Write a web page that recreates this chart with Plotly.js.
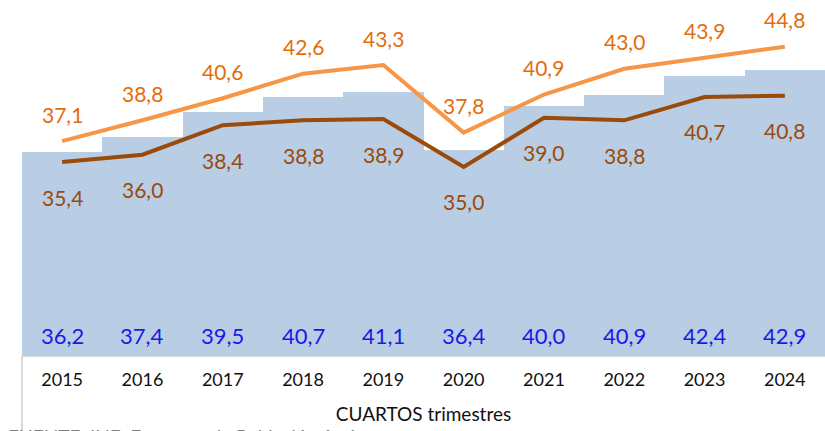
<!DOCTYPE html>
<html>
<head>
<meta charset="utf-8">
<script src="https://cdn.plot.ly/plotly-3.0.1.min.js"></script>
<style>html,body{margin:0;padding:0;background:#fff;}#chart{width:825px;height:431px;}</style>
</head>
<body>
<div id="chart"></div>
<script>
const years = ["2015","2016","2017","2018","2019","2020","2021","2022","2023","2024"];
const barValues = [36.2,37.4,39.5,40.7,41.1,36.4,40.0,40.9,42.4,42.9];
const orangeValues = [37.1,38.8,40.6,42.6,43.3,37.8,40.9,43.0,43.9,44.8];
const brownValues = [35.4,36.0,38.4,38.8,38.9,35.0,39.0,38.8,40.7,40.8];
const xTitle = "CUARTOS trimestres";
const sourceNote = "FUENTE: INE. Encuesta de Población Activa";

const FONT = "Lato, 'Open Sans', sans-serif";
const fmt = v => v.toFixed(1).replace(".", ",");

const traces = [
  {type:"bar", x:years, y:barValues, marker:{color:"#B9CDE5", line:{width:0}}, hoverinfo:"skip", showlegend:false},
  {type:"scatter", mode:"lines", x:years, y:orangeValues, line:{color:"#F79646", width:4}, showlegend:false, hoverinfo:"skip"},
  {type:"scatter", mode:"lines", x:years, y:brownValues, line:{color:"#9A4A0A", width:4}, showlegend:false, hoverinfo:"skip"}
];

const annotations = [];
years.forEach((yr,i) => {
  annotations.push({x:i, y:0, xref:"x", yref:"paper", text:fmt(barValues[i]), showarrow:false,
    yanchor:"middle", yshift:21, font:{family:FONT, size:22, color:"#1A1AE6"}});
  annotations.push({x:i, y:orangeValues[i], xref:"x", yref:"y", text:fmt(orangeValues[i]), showarrow:false,
    yanchor:"middle", yshift:27, font:{family:FONT, size:21, color:"#E46C0A"}});
  annotations.push({x:i, y:brownValues[i], xref:"x", yref:"y", text:fmt(brownValues[i]), showarrow:false,
    yanchor:"middle", yshift:-35, font:{family:FONT, size:21, color:"#9A4A0A"}});
});
annotations.push({x:0, y:0, xref:"paper", yref:"paper", text:sourceNote, showarrow:false,
  xanchor:"left", yanchor:"middle", xshift:-16, yshift:-80, font:{family:FONT, size:19, color:"#7F7F7F"}});

const layout = {
  width:825, height:431,
  margin:{l:22, r:0, t:0, b:75},
  paper_bgcolor:"#fff", plot_bgcolor:"#fff",
  bargap:0,
  showlegend:false,
  xaxis:{type:"category", range:[-0.5, years.length-0.5], showgrid:false, zeroline:false, showline:true, linecolor:"#D9D9D9", linewidth:1,
    ticks:"", ticklabelstandoff:7, tickfont:{family:FONT, size:18, color:"#111"},
    title:{text:xTitle, font:{family:FONT, size:19, color:"#111"}, standoff:19}},
  yaxis:{range:[19.6,48.6], visible:false, showgrid:false, zeroline:false, fixedrange:true},
  shapes:[{type:"line", xref:"paper", yref:"paper", x0:0, x1:0, y0:0, y1:-0.22, line:{color:"#D9D9D9", width:2}}],
  annotations:annotations
};

Plotly.newPlot("chart", traces, layout, {staticPlot:true, displayModeBar:false});
</script>
</body>
</html>
